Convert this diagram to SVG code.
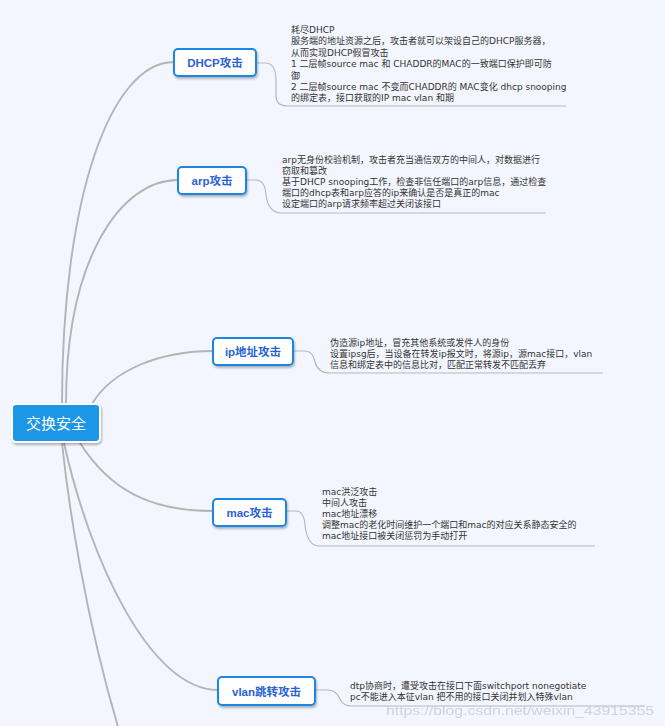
<svg xmlns="http://www.w3.org/2000/svg" width="665" height="726" viewBox="0 0 665 726">
<style>
.bg{fill:#f3f6fe}
.conn{fill:none;stroke:#b4b4b4;stroke-width:1.9;stroke-linecap:round}
.ul{fill:none;stroke:#b8b8b8;stroke-width:1.2}
.node{fill:#ffffff;stroke:#1e86e3;stroke-width:2}
.nlabel{font-family:"Liberation Sans","Noto Sans CJK SC",sans-serif;font-size:11.5px;font-weight:bold;fill:#2a62d6;text-anchor:middle}
.root{fill:#1c96e6;stroke:#ffffff;stroke-width:2}
.rlabel{font-family:"Noto Sans CJK SC",sans-serif;font-size:15px;fill:#ffffff;text-anchor:middle}
.note{font-family:"DejaVu Sans","Noto Sans CJK SC",sans-serif;font-size:9px;fill:#333333}
.wm{font-family:"Liberation Sans",sans-serif;font-size:13px;fill:#c9ccd4;opacity:0.85}
</style>
<defs>
<filter id="sh" x="-20%" y="-30%" width="150%" height="170%">
<feDropShadow dx="1" dy="2" stdDeviation="1.3" flood-color="#000" flood-opacity="0.28"/>
</filter>
</defs>
<rect class="bg" x="0" y="0" width="665" height="726"/>

<g id="connectors">
<path class="conn" d="M62,404 C62,200 110,62 174,62"/>
<path class="conn" d="M66,404 C66,260 120,180 178,180"/>
<path class="conn" d="M92,404 C112,370 160,351 213,351"/>
<path class="conn" d="M80,443 C110,490 150,511 213,511"/>
<path class="conn" d="M64,443 C90,560 150,690 218,690"/>
<path class="conn" d="M62,443 C68,500 85,620 122,740"/>
<path class="ul" d="M256,63 H265 Q276,63 276,80 V96 Q276,106 288,106 H566"/>
<path class="ul" d="M246,180 H256 Q265,180 266,195 Q268,213 282,213 H546"/>
<path class="ul" d="M293,351 H305 Q313,351 315,362 Q318,373 330,373 H603"/>
<path class="ul" d="M286,511 H296 Q304,511 305,525 Q307,546 320,546 H595"/>
<path class="ul" d="M315,690 H328 Q336,690 340,699 Q343,706 352,706 H645"/>
</g>

<g id="root">
<rect class="root" x="12" y="404" width="88" height="38" rx="4" filter="url(#sh)"/>
<text class="rlabel" x="56" y="428.5">交换安全</text>
</g>

<g id="dhcp">
<rect class="node" x="174" y="49" width="82" height="27" rx="4" filter="url(#sh)"/>
<text class="nlabel" x="215" y="67">DHCP攻击</text>
</g>
<g id="dhcp-note">
<text class="note" x="291" y="33">耗尽DHCP</text>
<text class="note" x="291" y="44.4">服务端的地址资源之后，攻击者就可以架设自己的DHCP服务器，</text>
<text class="note" x="291" y="55.8">从而实现DHCP假冒攻击</text>
<text class="note" x="291" y="67.2">1 二层帧source mac 和 CHADDR的MAC的一致端口保护即可防</text>
<text class="note" x="291" y="78.6">御</text>
<text class="note" x="291" y="90">2 二层帧source mac 不变而CHADDR的 MAC变化 dhcp snooping</text>
<text class="note" x="291" y="101.4">的绑定表，接口获取的IP mac vlan 和期</text>
</g>

<g id="arp">
<rect class="node" x="178" y="167" width="68" height="27" rx="4" filter="url(#sh)"/>
<text class="nlabel" x="212" y="185">arp攻击</text>
</g>
<g id="arp-note">
<text class="note" x="282" y="162.5">arp无身份校验机制，攻击者充当通信双方的中间人，对数据进行</text>
<text class="note" x="282" y="173.5">窃取和篡改</text>
<text class="note" x="282" y="184.5">基于DHCP snooping工作，检查非信任端口的arp信息，通过检查</text>
<text class="note" x="282" y="195.5">端口的dhcp表和arp应答的ip来确认是否是真正的mac</text>
<text class="note" x="282" y="206.5">设定端口的arp请求频率超过关闭该接口</text>
</g>

<g id="ip">
<rect class="node" x="213" y="338" width="80" height="27" rx="4" filter="url(#sh)"/>
<text class="nlabel" x="253" y="356">ip地址攻击</text>
</g>
<g id="ip-note">
<text class="note" x="330" y="346">伪造源ip地址，冒充其他系统或发件人的身份</text>
<text class="note" x="330" y="357">设置ipsg后，当设备在转发ip报文时，将源ip，源mac接口，vlan</text>
<text class="note" x="330" y="368">信息和绑定表中的信息比对，匹配正常转发不匹配丢弃</text>
</g>

<g id="mac">
<rect class="node" x="213" y="499" width="73" height="27" rx="4" filter="url(#sh)"/>
<text class="nlabel" x="249.5" y="517">mac攻击</text>
</g>
<g id="mac-note">
<text class="note" x="322" y="495">mac洪泛攻击</text>
<text class="note" x="322" y="506">中间人攻击</text>
<text class="note" x="322" y="517">mac地址漂移</text>
<text class="note" x="322" y="528">调整mac的老化时间维护一个端口和mac的对应关系静态安全的</text>
<text class="note" x="322" y="539">mac地址接口被关闭惩罚为手动打开</text>
</g>

<g id="vlan">
<rect class="node" x="218" y="677" width="97" height="28" rx="4" filter="url(#sh)"/>
<text class="nlabel" x="266.5" y="695.5">vlan跳转攻击</text>
</g>
<g id="vlan-note">
<text class="note" x="350" y="689">dtp协商时，遭受攻击在接口下面switchport nonegotiate</text>
<text class="note" x="350" y="700">pc不能进入本征vlan 把不用的接口关闭并划入特殊vlan</text>
</g>

<text class="wm" x="386" y="715" textLength="268" lengthAdjust="spacingAndGlyphs">https://blog.csdn.net/weixin_43915355</text>
</svg>
